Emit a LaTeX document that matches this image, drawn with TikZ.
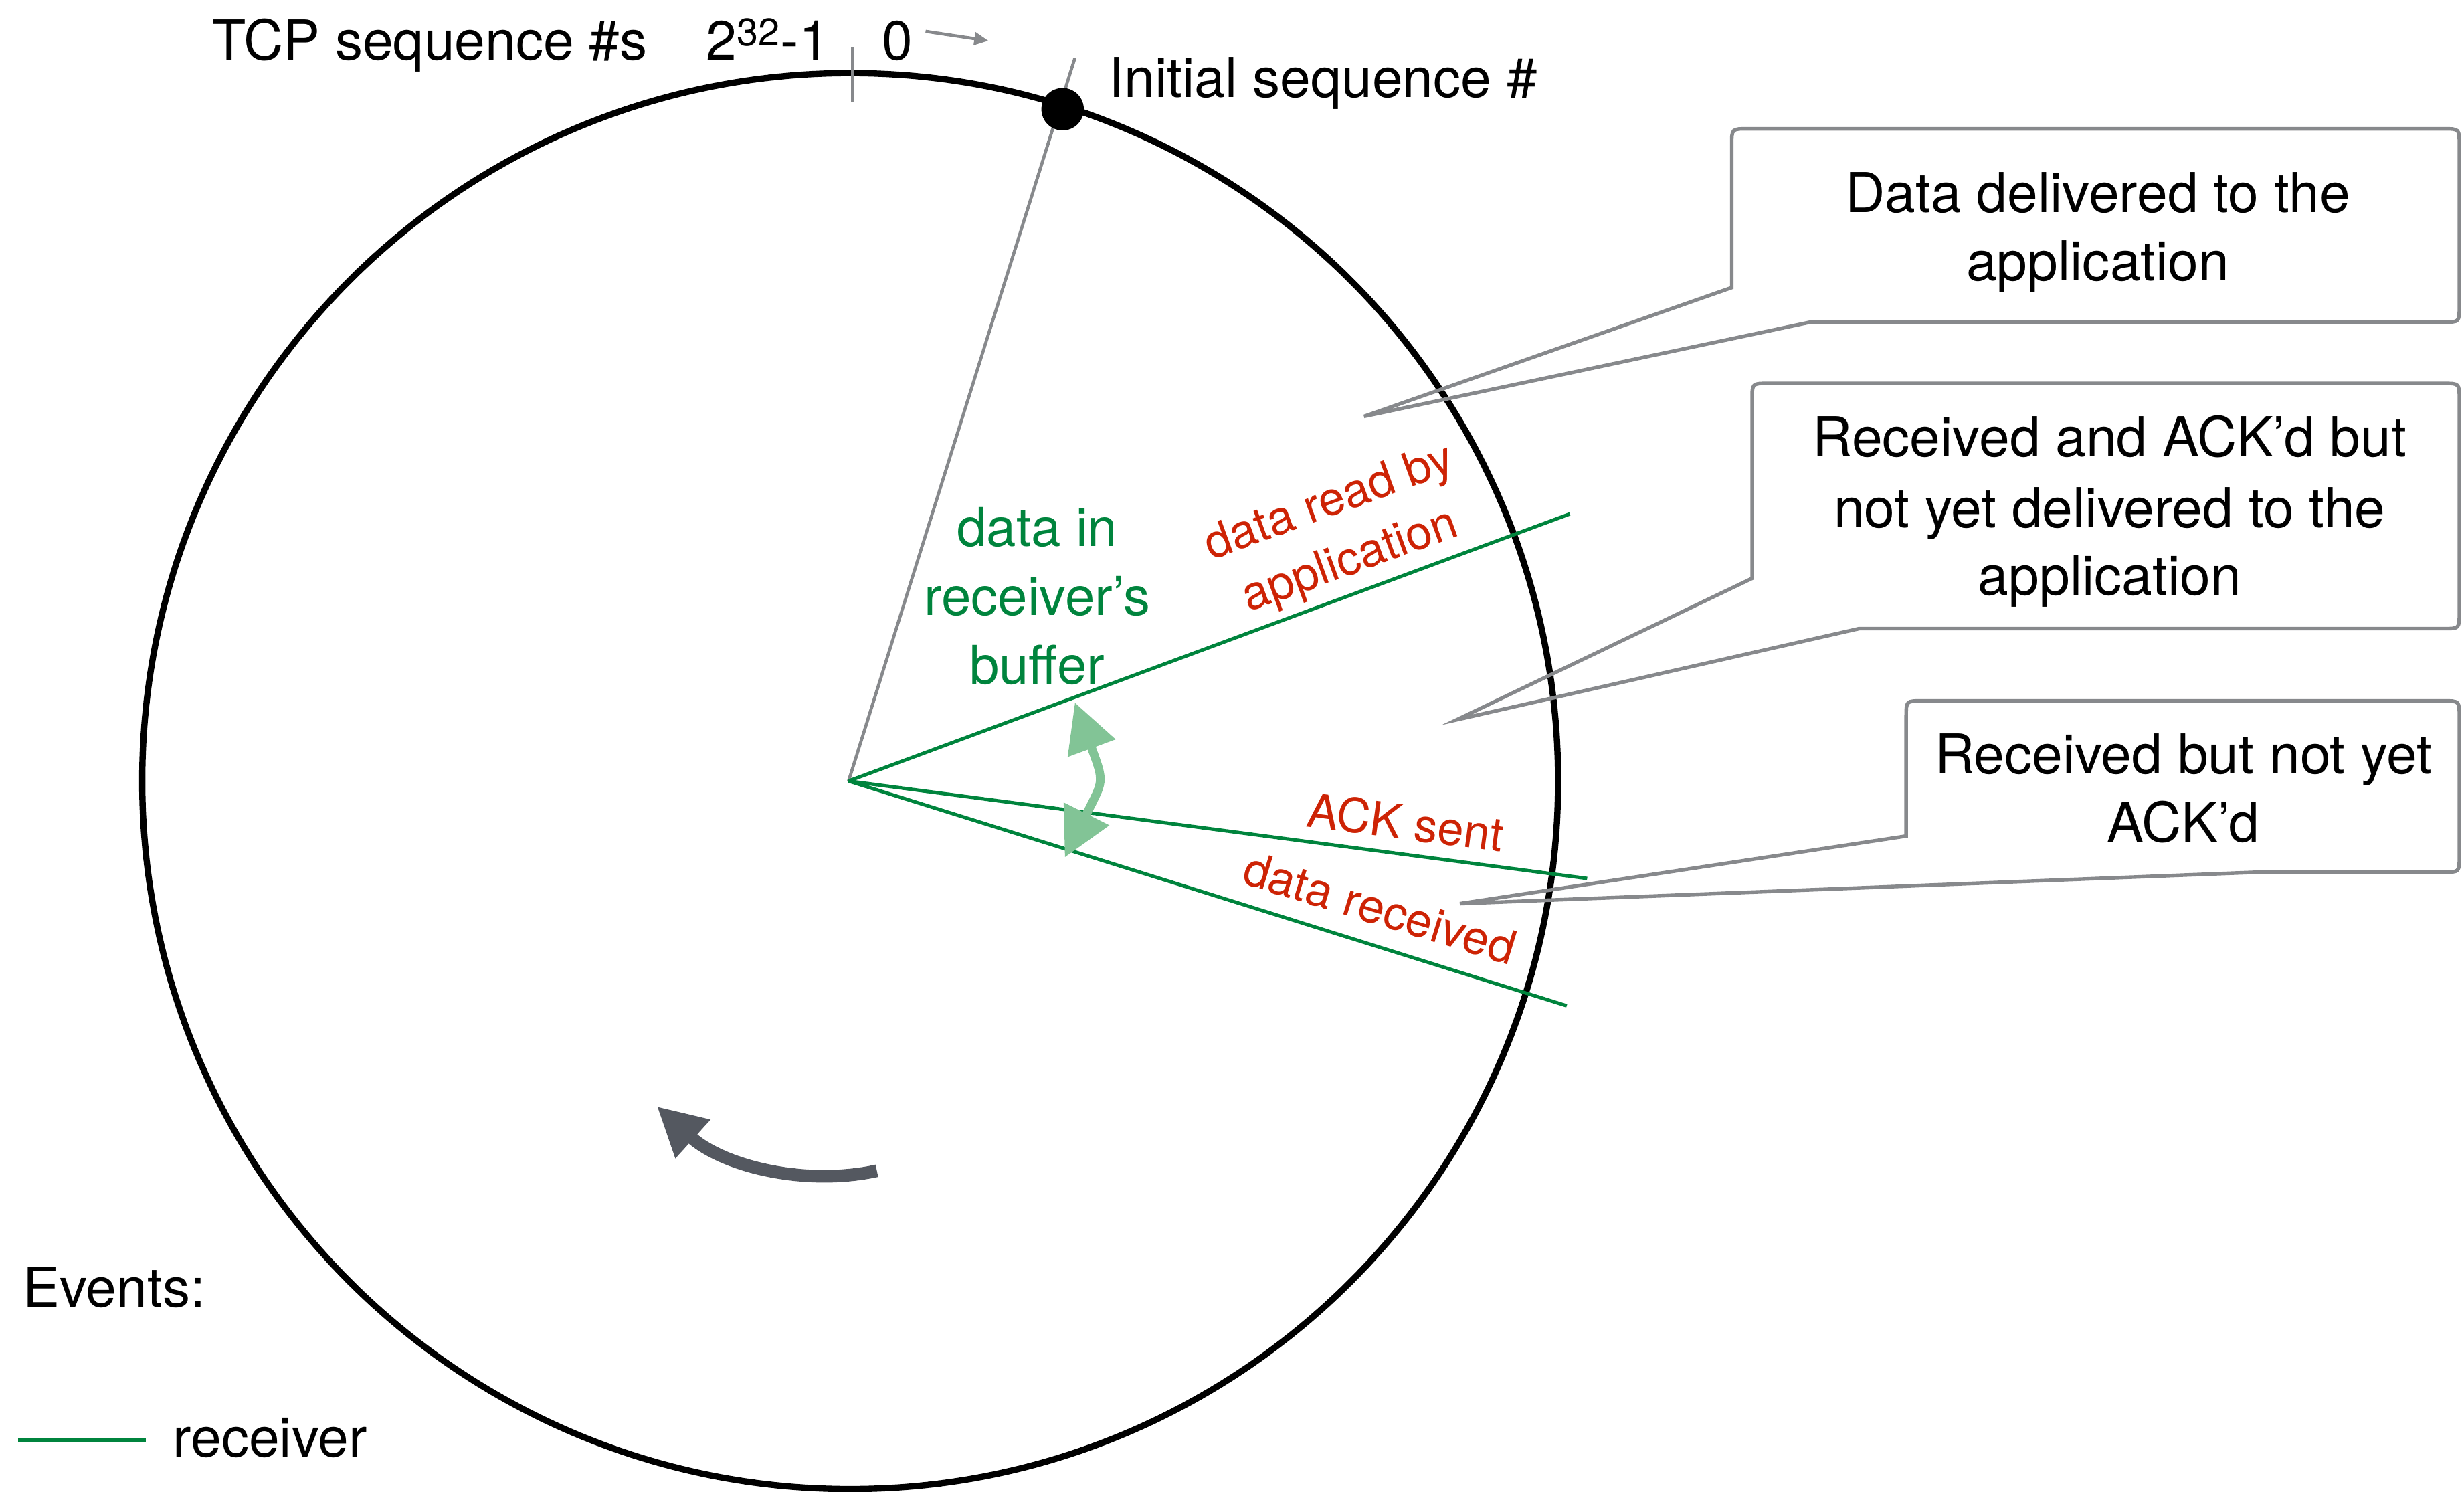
\documentclass[tikz,border=0pt]{standalone}
\usepackage{fontspec}
\setmainfont{TeX Gyre Heros}
\usetikzlibrary{arrows.meta}
\definecolor{rgreen}{RGB}{0,132,61}
\definecolor{rred}{RGB}{205,35,5}
\definecolor{lgreen}{RGB}{130,196,150}
\definecolor{darr}{RGB}{84,88,96}
\definecolor{cgray}{RGB}{135,137,140}
\begin{document}
\begin{tikzpicture}[x=1pt,y=-1pt,
  lbl/.style={font=\fontsize{35}{43}\selectfont, inner sep=0pt},
  redlbl/.style={text=rred, font=\fontsize{30}{36}\selectfont, inner sep=0pt, anchor=base},
  greenlbl/.style={text=rgreen, font=\fontsize{34}{44}\selectfont, inner sep=0pt, anchor=base},
  callout/.style={draw=cgray, line width=2.3pt, line join=miter},
  evline/.style={rgreen, line width=2.2pt},
  grayline/.style={cgray, line width=2pt}]
\useasboundingbox (0,0) rectangle (1568,949);

% ring of sequence numbers
\node[circle, draw=black, line width=4pt, minimum size=901pt, inner sep=0pt] (ring) at (541,497) {};
\coordinate (c) at (540,497);

% top labels
\node[lbl, anchor=base west] (tcp) at (135,38) {TCP sequence \#s};
\node[lbl, anchor=base east] (maxn) at (528,38) {2\textsuperscript{32}-1};
\node[lbl, anchor=base] (zero) at (571,38) {0};
\coordinate (arrS) at (589,20);
\coordinate (arrE) at (629,26);
\draw[grayline, -{Triangle[length=9pt,width=8pt]}] (arrS) -- (arrE);
\coordinate (tickT) at (542.5,30);
\coordinate (tickB) at (542.5,65);
\draw[grayline] (tickT) -- (tickB);

% initial sequence number
\coordinate (isn) at (684,37);
\draw[grayline] (c) -- (isn);
\node[circle, fill=black, minimum size=27pt, inner sep=0pt] (dot) at (676.2,69.5) {};
\node[lbl, anchor=base west] (isnl) at (705.6,62) {Initial sequence \#};

% receiver event lines
\coordinate (eApp) at (999,327);
\coordinate (eAck) at (1010,559);
\coordinate (eRcv) at (997,640);
\draw[evline] (c) -- (eApp);
\draw[evline] (c) -- (eAck);
\draw[evline] (c) -- (eRcv);

% labels
\node[greenlbl] (g1) at (660,347.6) {data in};
\node[greenlbl] (g2) at (660,391.6) {receiver’s};
\node[greenlbl] (g3) at (660,435.5) {buffer};
\node[redlbl, rotate=20] (r1) at (849,328) {data read by};
\node[redlbl, rotate=20] (r2) at (862,365) {application};
\node[redlbl, rotate=-7.5] (r3) at (893,534) {ACK sent};
\node[redlbl, rotate=-17] (r4) at (875,588) {data received};

% buffer double arrow
\coordinate (bufT) at (684,447);
\coordinate (bufB) at (677.6,545.6);
\draw[lgreen, line width=5.5pt, {Triangle[length=31pt,width=31pt]}-{Triangle[length=31pt,width=31pt]}]
  (bufT) .. controls (703,498.7) and (702.3,496.1) .. (bufB);

% rotation arrow
\coordinate (rotS) at (558,745);
\coordinate (rotE) at (418,704);
\draw[darr, line width=8pt, -{Triangle[length=31pt,width=31pt]}]
  (rotS) .. controls (512,755) and (460,742) .. (rotE);

% callout 1
\draw[callout] (1152,205) -- (868,265) -- (1102,183) -- (1102,92) .. controls (1102,82) .. (1112,82)
  -- (1555,82) .. controls (1565,82) .. (1565,92) -- (1565,195) .. controls (1565,205) .. (1555,205) -- cycle;
\node[lbl, anchor=base] (b1a) at (1335,135) {Data delivered to the};
\node[lbl, anchor=base] (b1b) at (1335,178.6) {application};

% callout 2
\draw[callout] (1183,400) -- (927,458) -- (1115,368) -- (1115,254) .. controls (1115,244) .. (1125,244)
  -- (1555,244) .. controls (1565,244) .. (1565,254) -- (1565,390) .. controls (1565,400) .. (1555,400) -- cycle;
\node[lbl, anchor=base] (b2a) at (1342.5,290.6) {Received and ACK’d but};
\node[lbl, anchor=base] (b2b) at (1342.5,335.5) {not yet delivered to the};
\node[lbl, anchor=base] (b2c) at (1342.5,378.9) {application};

% callout 3
\draw[callout] (1437,555) -- (929,575) -- (1213,532) -- (1213,456) .. controls (1213,446) .. (1223,446)
  -- (1555,446) .. controls (1565,446) .. (1565,456) -- (1565,545) .. controls (1565,555) .. (1555,555) -- cycle;
\node[lbl, anchor=base] (b3a) at (1389.5,492.3) {Received but not yet};
\node[lbl, anchor=base] (b3b) at (1389.5,535.8) {ACK’d};

% legend
\node[lbl, anchor=base west] (events) at (14.5,831.6) {Events:};
\coordinate (legS) at (11.4,916.5);
\coordinate (legE) at (93,916.5);
\draw[evline] (legS) -- (legE);
\node[lbl, anchor=base west] (recv) at (110,927) {receiver};
\end{tikzpicture}
\end{document}
